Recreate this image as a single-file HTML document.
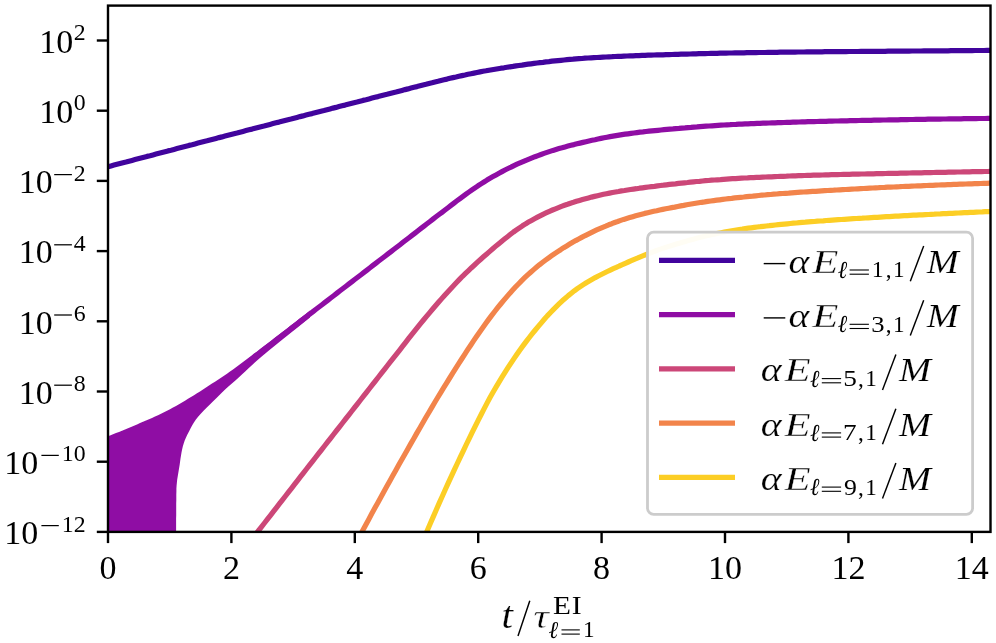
<!DOCTYPE html>
<html><head><meta charset="utf-8"><title>plot</title>
<style>
html,body{margin:0;padding:0;background:#fff;}
body{width:996px;height:643px;overflow:hidden;font-family:"Liberation Serif",serif;}
svg{display:block;will-change:transform;}
text{font-family:"Liberation Serif",serif;fill:#000;}
.i{font-style:italic;}
</style></head><body>
<svg width="996" height="643" viewBox="0 0 996 643">
<rect x="0" y="0" width="996" height="643" fill="#fff"/>
<defs><clipPath id="ax"><rect x="108.0" y="5.6" width="882.5" height="526.3"/></clipPath></defs>
<g clip-path="url(#ax)" fill="none" stroke-width="5.2" stroke-linejoin="round" stroke-linecap="butt">
<path d="M104.0 540.0 L104.0 438.0 L107.0 436.7 L110.0 435.5 L113.0 434.3 L116.0 433.1 L119.0 431.9 L122.0 430.7 L125.0 429.4 L128.0 428.2 L131.0 426.9 L134.0 425.7 L137.0 424.4 L140.0 423.1 L143.0 421.8 L146.0 420.5 L149.0 419.2 L152.0 417.9 L155.0 416.6 L158.0 415.2 L161.0 413.7 L164.0 412.3 L167.0 410.8 L170.0 409.2 L173.0 407.6 L176.0 406.0 L179.0 404.2 L182.0 402.5 L185.0 400.7 L188.0 398.8 L191.0 397.0 L194.0 395.2 L197.0 393.3 L200.0 391.4 L203.0 389.5 L206.0 387.6 L209.0 385.6 L212.0 383.6 L215.0 381.7 L218.0 379.7 L221.0 377.7 L224.0 375.7 L227.0 373.7 L230.0 371.6 L233.0 369.5 L236.0 367.3 L239.0 365.1 L242.0 362.8 L245.0 360.5 L248.0 358.2 L251.0 355.9 L254.0 353.6 L257.0 351.4 L260.0 349.1 L263.0 346.8 L266.0 344.5 L269.0 342.2 L272.0 339.9 L275.0 337.6 L278.0 335.3 L281.0 333.0 L284.0 330.7 L287.0 328.4 L290.0 326.1 L293.0 323.8 L296.0 321.4 L299.0 319.1 L302.0 316.8 L305.0 314.4 L308.0 312.1 L310.0 310.5 L310.0 317.6 L306.2 320.6 L302.5 323.6 L298.8 326.6 L295.0 329.6 L291.2 332.6 L287.5 335.6 L283.7 338.6 L280.0 341.6 L276.3 344.6 L272.6 347.6 L268.9 350.6 L265.3 353.6 L261.7 356.6 L258.2 359.6 L254.8 362.6 L251.6 365.6 L248.3 368.6 L245.2 371.6 L241.9 374.6 L238.7 377.6 L235.4 380.6 L231.9 383.6 L228.4 386.6 L225.1 389.6 L222.0 392.6 L219.0 395.6 L216.0 398.6 L212.9 401.6 L209.9 404.6 L206.8 407.6 L203.8 410.6 L201.0 413.6 L198.3 416.6 L195.9 419.6 L193.9 422.6 L192.1 425.6 L190.5 428.6 L189.0 431.6 L187.4 434.6 L186.0 437.6 L184.7 440.6 L183.7 443.6 L182.8 446.6 L182.1 449.6 L181.5 452.6 L181.0 455.6 L180.5 458.6 L180.1 461.6 L179.7 464.6 L179.2 467.6 L178.7 470.6 L178.2 473.6 L177.7 476.6 L177.2 479.6 L176.9 482.6 L176.6 485.6 L176.4 488.6 L176.4 491.6 L176.3 494.6 L176.3 497.6 L176.3 500.6 L176.2 503.6 L176.2 506.6 L176.2 509.6 L176.2 512.6 L176.2 515.6 L176.1 518.6 L176.1 521.6 L176.1 524.6 L176.1 527.6 L176.1 530.6 L176.1 533.6 L176.1 536.6 L176.1 539.6 L176.1 540.0 Z" fill="#8f0da4" stroke="none"/>
<path d="M-1330.2 1049.4 L-1326.2 545.0 L108.0 166.7 L111.0 165.9 L114.0 165.1 L117.0 164.3 L120.0 163.5 L123.0 162.7 L126.0 162.0 L129.0 161.2 L132.0 160.4 L135.0 159.6 L138.0 158.8 L141.0 158.0 L144.0 157.2 L147.0 156.4 L150.0 155.7 L153.0 154.9 L156.0 154.1 L159.0 153.3 L162.0 152.5 L165.0 151.7 L168.0 150.9 L171.0 150.2 L174.0 149.4 L177.0 148.6 L180.0 147.8 L183.0 147.0 L186.0 146.2 L189.0 145.4 L192.0 144.7 L195.0 143.9 L198.0 143.1 L201.0 142.3 L204.0 141.5 L207.0 140.8 L210.0 140.0 L213.0 139.2 L216.0 138.4 L219.0 137.6 L222.0 136.9 L225.0 136.1 L228.0 135.3 L231.0 134.5 L234.0 133.7 L237.0 133.0 L240.0 132.2 L243.0 131.4 L246.0 130.6 L249.0 129.8 L252.0 129.1 L255.0 128.3 L258.0 127.5 L261.0 126.7 L264.0 126.0 L267.0 125.2 L270.0 124.4 L273.0 123.6 L276.0 122.8 L279.0 122.1 L282.0 121.3 L285.0 120.5 L288.0 119.7 L291.0 119.0 L294.0 118.2 L297.0 117.4 L300.0 116.6 L303.0 115.9 L306.0 115.1 L309.0 114.3 L312.0 113.6 L315.0 112.8 L318.0 112.0 L321.0 111.2 L324.0 110.5 L327.0 109.7 L330.0 108.9 L333.0 108.1 L336.0 107.4 L339.0 106.6 L342.0 105.8 L345.0 105.1 L348.0 104.3 L351.0 103.5 L354.0 102.7 L357.0 102.0 L360.0 101.2 L363.0 100.4 L366.0 99.7 L369.0 98.9 L372.0 98.1 L375.0 97.3 L378.0 96.6 L381.0 95.8 L384.0 95.0 L387.0 94.3 L390.0 93.5 L393.0 92.7 L396.0 92.0 L399.0 91.2 L402.0 90.4 L405.0 89.6 L408.0 88.9 L411.0 88.1 L414.0 87.3 L417.0 86.6 L420.0 85.8 L423.0 85.0 L426.0 84.3 L429.0 83.5 L432.0 82.8 L435.0 82.0 L438.0 81.3 L441.0 80.5 L444.0 79.8 L447.0 79.1 L450.0 78.3 L453.0 77.6 L456.0 77.0 L459.0 76.3 L462.0 75.6 L465.0 75.0 L468.0 74.3 L471.0 73.7 L474.0 73.1 L477.0 72.5 L480.0 71.9 L483.0 71.3 L486.0 70.8 L489.0 70.2 L492.0 69.7 L495.0 69.2 L498.0 68.7 L501.0 68.2 L504.0 67.8 L507.0 67.3 L510.0 66.8 L513.0 66.4 L516.0 65.9 L519.0 65.5 L522.0 65.1 L525.0 64.6 L528.0 64.2 L531.0 63.8 L534.0 63.4 L537.0 63.0 L540.0 62.6 L543.0 62.3 L546.0 61.9 L549.0 61.6 L552.0 61.2 L555.0 60.9 L558.0 60.6 L561.0 60.3 L564.0 60.0 L567.0 59.7 L570.0 59.4 L573.0 59.2 L576.0 58.9 L579.0 58.7 L582.0 58.5 L585.0 58.2 L588.0 58.0 L591.0 57.8 L594.0 57.6 L597.0 57.5 L600.0 57.3 L603.0 57.1 L606.0 57.0 L609.0 56.8 L612.0 56.7 L615.0 56.5 L618.0 56.4 L621.0 56.3 L624.0 56.1 L627.0 56.0 L630.0 55.9 L633.0 55.8 L636.0 55.7 L639.0 55.6 L642.0 55.4 L645.0 55.3 L648.0 55.2 L651.0 55.1 L654.0 55.0 L657.0 54.9 L660.0 54.9 L663.0 54.8 L666.0 54.7 L669.0 54.6 L672.0 54.5 L675.0 54.4 L678.0 54.3 L681.0 54.2 L684.0 54.2 L687.0 54.1 L690.0 54.0 L693.0 53.9 L696.0 53.8 L699.0 53.7 L702.0 53.7 L705.0 53.6 L708.0 53.5 L711.0 53.4 L714.0 53.4 L717.0 53.3 L720.0 53.2 L723.0 53.2 L726.0 53.1 L729.0 53.0 L732.0 53.0 L735.0 52.9 L738.0 52.9 L741.0 52.8 L744.0 52.8 L747.0 52.7 L750.0 52.7 L753.0 52.6 L756.0 52.6 L759.0 52.5 L762.0 52.5 L765.0 52.5 L768.0 52.4 L771.0 52.4 L774.0 52.3 L777.0 52.3 L780.0 52.2 L783.0 52.2 L786.0 52.2 L789.0 52.1 L792.0 52.1 L795.0 52.1 L798.0 52.0 L801.0 52.0 L804.0 52.0 L807.0 51.9 L810.0 51.9 L813.0 51.9 L816.0 51.8 L819.0 51.8 L822.0 51.8 L825.0 51.7 L828.0 51.7 L831.0 51.7 L834.0 51.7 L837.0 51.6 L840.0 51.6 L843.0 51.6 L846.0 51.6 L849.0 51.5 L852.0 51.5 L855.0 51.5 L858.0 51.5 L861.0 51.4 L864.0 51.4 L867.0 51.4 L870.0 51.4 L873.0 51.3 L876.0 51.3 L879.0 51.3 L882.0 51.3 L885.0 51.3 L888.0 51.2 L891.0 51.2 L894.0 51.2 L897.0 51.2 L900.0 51.1 L903.0 51.1 L906.0 51.1 L909.0 51.1 L912.0 51.0 L915.0 51.0 L918.0 51.0 L921.0 51.0 L924.0 50.9 L927.0 50.9 L930.0 50.9 L933.0 50.9 L936.0 50.9 L939.0 50.8 L942.0 50.8 L945.0 50.8 L948.0 50.8 L951.0 50.7 L954.0 50.7 L957.0 50.7 L960.0 50.7 L963.0 50.6 L966.0 50.6 L969.0 50.6 L972.0 50.6 L975.0 50.5 L978.0 50.5 L981.0 50.5 L984.0 50.5 L987.0 50.4 L990.0 50.4 L990.5 50.4" stroke="#41049d"/>
<path d="M250.0 360.6 L253.0 358.2 L256.0 355.9 L259.0 353.6 L262.0 351.2 L265.0 348.9 L268.0 346.5 L271.0 344.2 L274.0 341.9 L277.0 339.5 L280.0 337.2 L283.0 334.9 L286.0 332.5 L289.0 330.2 L292.0 327.9 L295.0 325.6 L298.0 323.2 L301.0 320.9 L304.0 318.6 L307.0 316.3 L310.0 314.0 L313.0 311.6 L316.0 309.3 L319.0 307.0 L322.0 304.7 L325.0 302.4 L328.0 300.1 L331.0 297.8 L334.0 295.5 L337.0 293.1 L340.0 290.8 L343.0 288.5 L346.0 286.2 L349.0 283.9 L352.0 281.6 L355.0 279.3 L358.0 277.0 L361.0 274.7 L364.0 272.4 L367.0 270.1 L370.0 267.8 L373.0 265.4 L376.0 263.1 L379.0 260.8 L382.0 258.5 L385.0 256.2 L388.0 253.9 L391.0 251.6 L394.0 249.3 L397.0 247.0 L400.0 244.7 L403.0 242.3 L406.0 240.0 L409.0 237.7 L412.0 235.4 L415.0 233.1 L418.0 230.7 L421.0 228.4 L424.0 226.1 L427.0 223.8 L430.0 221.5 L433.0 219.1 L436.0 216.8 L439.0 214.5 L442.0 212.3 L445.0 210.0 L448.0 207.7 L451.0 205.4 L454.0 203.1 L457.0 200.8 L460.0 198.6 L463.0 196.4 L466.0 194.2 L469.0 192.0 L472.0 189.9 L475.0 187.8 L478.0 185.8 L481.0 183.9 L484.0 182.0 L487.0 180.1 L490.0 178.3 L493.0 176.6 L496.0 174.9 L499.0 173.2 L502.0 171.6 L505.0 170.0 L508.0 168.5 L511.0 167.1 L514.0 165.6 L517.0 164.2 L520.0 162.9 L523.0 161.6 L526.0 160.3 L529.0 159.1 L532.0 157.9 L535.0 156.7 L538.0 155.6 L541.0 154.5 L544.0 153.4 L547.0 152.4 L550.0 151.4 L553.0 150.4 L556.0 149.5 L559.0 148.6 L562.0 147.8 L565.0 146.9 L568.0 146.1 L571.0 145.3 L574.0 144.6 L577.0 143.8 L580.0 143.1 L583.0 142.4 L586.0 141.7 L589.0 141.0 L592.0 140.3 L595.0 139.7 L598.0 139.0 L601.0 138.4 L604.0 137.8 L607.0 137.2 L610.0 136.6 L613.0 136.1 L616.0 135.6 L619.0 135.1 L622.0 134.6 L625.0 134.2 L628.0 133.8 L631.0 133.4 L634.0 133.0 L637.0 132.6 L640.0 132.2 L643.0 131.9 L646.0 131.5 L649.0 131.2 L652.0 130.9 L655.0 130.6 L658.0 130.3 L661.0 130.0 L664.0 129.7 L667.0 129.4 L670.0 129.1 L673.0 128.9 L676.0 128.6 L679.0 128.4 L682.0 128.1 L685.0 127.9 L688.0 127.6 L691.0 127.4 L694.0 127.1 L697.0 126.9 L700.0 126.6 L703.0 126.4 L706.0 126.2 L709.0 126.0 L712.0 125.8 L715.0 125.6 L718.0 125.4 L721.0 125.2 L724.0 125.0 L727.0 124.8 L730.0 124.7 L733.0 124.5 L736.0 124.4 L739.0 124.2 L742.0 124.1 L745.0 123.9 L748.0 123.8 L751.0 123.7 L754.0 123.6 L757.0 123.4 L760.0 123.3 L763.0 123.2 L766.0 123.1 L769.0 123.0 L772.0 122.9 L775.0 122.8 L778.0 122.7 L781.0 122.6 L784.0 122.5 L787.0 122.4 L790.0 122.3 L793.0 122.2 L796.0 122.1 L799.0 122.0 L802.0 121.9 L805.0 121.8 L808.0 121.7 L811.0 121.7 L814.0 121.6 L817.0 121.5 L820.0 121.4 L823.0 121.3 L826.0 121.3 L829.0 121.2 L832.0 121.1 L835.0 121.0 L838.0 121.0 L841.0 120.9 L844.0 120.8 L847.0 120.8 L850.0 120.7 L853.0 120.6 L856.0 120.6 L859.0 120.5 L862.0 120.4 L865.0 120.4 L868.0 120.3 L871.0 120.3 L874.0 120.2 L877.0 120.1 L880.0 120.1 L883.0 120.0 L886.0 120.0 L889.0 119.9 L892.0 119.9 L895.0 119.8 L898.0 119.8 L901.0 119.7 L904.0 119.6 L907.0 119.6 L910.0 119.5 L913.0 119.5 L916.0 119.4 L919.0 119.4 L922.0 119.3 L925.0 119.3 L928.0 119.2 L931.0 119.2 L934.0 119.2 L937.0 119.1 L940.0 119.1 L943.0 119.0 L946.0 119.0 L949.0 118.9 L952.0 118.9 L955.0 118.8 L958.0 118.8 L961.0 118.8 L964.0 118.7 L967.0 118.7 L970.0 118.6 L973.0 118.6 L976.0 118.6 L979.0 118.5 L982.0 118.5 L985.0 118.5 L988.0 118.4 L990.5 118.4" stroke="#8f0da4"/>
<path d="M247.4 545.0 L258.5 530.7 L261.5 526.9 L264.5 523.0 L267.5 519.1 L270.5 515.3 L273.5 511.4 L276.5 507.6 L279.5 503.7 L282.5 499.9 L285.5 496.0 L288.5 492.1 L291.5 488.3 L294.5 484.4 L297.5 480.6 L300.5 476.7 L303.5 472.9 L306.5 469.0 L309.5 465.2 L312.5 461.4 L315.5 457.5 L318.5 453.7 L321.5 449.8 L324.5 446.0 L327.5 442.2 L330.5 438.3 L333.5 434.5 L336.5 430.6 L339.5 426.8 L342.5 423.0 L345.5 419.1 L348.5 415.3 L351.5 411.5 L354.5 407.6 L357.5 403.8 L360.5 400.0 L363.5 396.2 L366.5 392.3 L369.5 388.5 L372.5 384.7 L375.5 380.8 L378.5 377.0 L381.5 373.2 L384.5 369.4 L387.5 365.5 L390.5 361.7 L393.5 357.9 L396.5 354.1 L399.5 350.3 L402.5 346.4 L405.5 342.6 L408.5 338.7 L411.5 334.9 L414.5 331.1 L417.5 327.3 L420.5 323.6 L423.5 320.0 L426.5 316.4 L429.5 312.8 L432.5 309.3 L435.5 305.8 L438.5 302.3 L441.5 298.9 L444.5 295.5 L447.5 292.2 L450.5 288.9 L453.5 285.7 L456.5 282.5 L459.5 279.4 L462.5 276.3 L465.5 273.4 L468.5 270.6 L471.5 267.7 L474.5 265.0 L477.5 262.2 L480.5 259.5 L483.5 256.8 L486.5 254.2 L489.5 251.6 L492.5 249.0 L495.5 246.4 L498.5 243.9 L501.5 241.4 L504.5 239.0 L507.5 236.7 L510.5 234.3 L513.5 232.0 L516.5 229.9 L519.5 227.8 L522.5 225.8 L525.5 223.9 L528.5 222.1 L531.5 220.4 L534.5 218.7 L537.5 217.1 L540.5 215.6 L543.5 214.1 L546.5 212.7 L549.5 211.3 L552.5 210.0 L555.5 208.8 L558.5 207.6 L561.5 206.4 L564.5 205.3 L567.5 204.3 L570.5 203.2 L573.5 202.3 L576.5 201.3 L579.5 200.4 L582.5 199.5 L585.5 198.7 L588.5 197.9 L591.5 197.1 L594.5 196.4 L597.5 195.7 L600.5 195.0 L603.5 194.3 L606.5 193.7 L609.5 193.1 L612.5 192.5 L615.5 192.0 L618.5 191.5 L621.5 190.9 L624.5 190.5 L627.5 190.0 L630.5 189.5 L633.5 189.1 L636.5 188.7 L639.5 188.2 L642.5 187.8 L645.5 187.4 L648.5 187.0 L651.5 186.6 L654.5 186.3 L657.5 185.9 L660.5 185.5 L663.5 185.2 L666.5 184.8 L669.5 184.4 L672.5 184.1 L675.5 183.8 L678.5 183.4 L681.5 183.1 L684.5 182.8 L687.5 182.5 L690.5 182.1 L693.5 181.8 L696.5 181.5 L699.5 181.3 L702.5 181.0 L705.5 180.7 L708.5 180.5 L711.5 180.2 L714.5 180.0 L717.5 179.8 L720.5 179.6 L723.5 179.3 L726.5 179.1 L729.5 178.9 L732.5 178.7 L735.5 178.6 L738.5 178.4 L741.5 178.2 L744.5 178.0 L747.5 177.9 L750.5 177.7 L753.5 177.6 L756.5 177.4 L759.5 177.3 L762.5 177.1 L765.5 177.0 L768.5 176.9 L771.5 176.8 L774.5 176.6 L777.5 176.5 L780.5 176.4 L783.5 176.3 L786.5 176.2 L789.5 176.0 L792.5 175.9 L795.5 175.8 L798.5 175.7 L801.5 175.6 L804.5 175.5 L807.5 175.4 L810.5 175.3 L813.5 175.2 L816.5 175.1 L819.5 175.1 L822.5 175.0 L825.5 174.9 L828.5 174.8 L831.5 174.7 L834.5 174.7 L837.5 174.6 L840.5 174.5 L843.5 174.4 L846.5 174.4 L849.5 174.3 L852.5 174.2 L855.5 174.2 L858.5 174.1 L861.5 174.0 L864.5 174.0 L867.5 173.9 L870.5 173.8 L873.5 173.8 L876.5 173.7 L879.5 173.6 L882.5 173.6 L885.5 173.5 L888.5 173.4 L891.5 173.4 L894.5 173.3 L897.5 173.3 L900.5 173.2 L903.5 173.1 L906.5 173.1 L909.5 173.0 L912.5 172.9 L915.5 172.9 L918.5 172.8 L921.5 172.8 L924.5 172.7 L927.5 172.6 L930.5 172.6 L933.5 172.5 L936.5 172.4 L939.5 172.4 L942.5 172.3 L945.5 172.3 L948.5 172.2 L951.5 172.1 L954.5 172.1 L957.5 172.0 L960.5 172.0 L963.5 171.9 L966.5 171.9 L969.5 171.8 L972.5 171.7 L975.5 171.7 L978.5 171.6 L981.5 171.6 L984.5 171.5 L987.5 171.5 L990.5 171.4" stroke="#cc4778"/>
<path d="M354.9 545.0 L362.7 530.5 L365.7 524.9 L368.7 519.4 L371.7 513.8 L374.7 508.3 L377.7 502.9 L380.7 497.4 L383.7 492.0 L386.7 486.6 L389.7 481.2 L392.7 475.8 L395.7 470.5 L398.7 465.1 L401.7 459.8 L404.7 454.5 L407.7 449.2 L410.7 443.9 L413.7 438.7 L416.7 433.4 L419.7 428.2 L422.7 423.0 L425.7 417.8 L428.7 412.7 L431.7 407.6 L434.7 402.5 L437.7 397.5 L440.7 392.6 L443.7 387.7 L446.7 382.8 L449.7 378.0 L452.7 373.2 L455.7 368.4 L458.7 363.7 L461.7 359.0 L464.7 354.4 L467.7 349.7 L470.7 345.2 L473.7 340.6 L476.7 336.2 L479.7 331.9 L482.7 327.7 L485.7 323.5 L488.7 319.4 L491.7 315.4 L494.7 311.5 L497.7 307.7 L500.7 304.0 L503.7 300.4 L506.7 296.9 L509.7 293.4 L512.7 290.1 L515.7 286.8 L518.7 283.7 L521.7 280.6 L524.7 277.7 L527.7 274.9 L530.7 272.2 L533.7 269.6 L536.7 267.1 L539.7 264.6 L542.7 262.3 L545.7 260.0 L548.7 257.8 L551.7 255.7 L554.7 253.6 L557.7 251.6 L560.7 249.7 L563.7 247.7 L566.7 245.9 L569.7 244.1 L572.7 242.3 L575.7 240.6 L578.7 239.0 L581.7 237.4 L584.7 235.8 L587.7 234.3 L590.7 232.8 L593.7 231.3 L596.7 229.9 L599.7 228.6 L602.7 227.3 L605.7 226.1 L608.7 224.8 L611.7 223.7 L614.7 222.5 L617.7 221.5 L620.7 220.4 L623.7 219.4 L626.7 218.5 L629.7 217.6 L632.7 216.7 L635.7 215.8 L638.7 215.0 L641.7 214.2 L644.7 213.4 L647.7 212.7 L650.7 212.0 L653.7 211.3 L656.7 210.7 L659.7 210.0 L662.7 209.4 L665.7 208.8 L668.7 208.2 L671.7 207.6 L674.7 207.1 L677.7 206.5 L680.7 205.9 L683.7 205.4 L686.7 204.8 L689.7 204.3 L692.7 203.8 L695.7 203.3 L698.7 202.8 L701.7 202.3 L704.7 201.9 L707.7 201.4 L710.7 201.0 L713.7 200.6 L716.7 200.2 L719.7 199.8 L722.7 199.4 L725.7 199.0 L728.7 198.6 L731.7 198.3 L734.7 197.9 L737.7 197.6 L740.7 197.3 L743.7 197.0 L746.7 196.6 L749.7 196.3 L752.7 196.1 L755.7 195.8 L758.7 195.5 L761.7 195.2 L764.7 195.0 L767.7 194.7 L770.7 194.5 L773.7 194.2 L776.7 194.0 L779.7 193.7 L782.7 193.5 L785.7 193.3 L788.7 193.1 L791.7 192.8 L794.7 192.6 L797.7 192.4 L800.7 192.2 L803.7 192.0 L806.7 191.8 L809.7 191.6 L812.7 191.4 L815.7 191.3 L818.7 191.1 L821.7 190.9 L824.7 190.7 L827.7 190.5 L830.7 190.3 L833.7 190.2 L836.7 190.0 L839.7 189.8 L842.7 189.6 L845.7 189.5 L848.7 189.3 L851.7 189.1 L854.7 189.0 L857.7 188.8 L860.7 188.6 L863.7 188.5 L866.7 188.3 L869.7 188.1 L872.7 188.0 L875.7 187.8 L878.7 187.7 L881.7 187.5 L884.7 187.4 L887.7 187.2 L890.7 187.1 L893.7 187.0 L896.7 186.8 L899.7 186.7 L902.7 186.5 L905.7 186.4 L908.7 186.3 L911.7 186.1 L914.7 186.0 L917.7 185.9 L920.7 185.8 L923.7 185.6 L926.7 185.5 L929.7 185.4 L932.7 185.3 L935.7 185.1 L938.7 185.0 L941.7 184.9 L944.7 184.8 L947.7 184.7 L950.7 184.6 L953.7 184.4 L956.7 184.3 L959.7 184.2 L962.7 184.1 L965.7 184.0 L968.7 183.9 L971.7 183.8 L974.7 183.7 L977.7 183.6 L980.7 183.5 L983.7 183.4 L986.7 183.3 L989.7 183.2 L990.5 183.2" stroke="#f2844b"/>
<path d="M421.1 545.0 L427.3 530.5 L430.3 523.5 L433.3 516.6 L436.3 509.7 L439.3 502.9 L442.3 496.2 L445.3 489.5 L448.3 482.9 L451.3 476.4 L454.3 469.9 L457.3 463.5 L460.3 457.1 L463.3 450.8 L466.3 444.5 L469.3 438.3 L472.3 432.2 L475.3 426.1 L478.3 420.1 L481.3 414.2 L484.3 408.4 L487.3 402.6 L490.3 397.1 L493.3 391.7 L496.3 386.6 L499.3 381.6 L502.3 376.7 L505.3 371.9 L508.3 367.2 L511.3 362.6 L514.3 358.1 L517.3 353.7 L520.3 349.5 L523.3 345.4 L526.3 341.4 L529.3 337.5 L532.3 333.7 L535.3 330.0 L538.3 326.4 L541.3 322.8 L544.3 319.3 L547.3 315.9 L550.3 312.7 L553.3 309.6 L556.3 306.6 L559.3 303.7 L562.3 300.8 L565.3 298.2 L568.3 295.6 L571.3 293.2 L574.3 290.8 L577.3 288.6 L580.3 286.6 L583.3 284.6 L586.3 282.7 L589.3 281.0 L592.3 279.3 L595.3 277.6 L598.3 276.0 L601.3 274.5 L604.3 273.0 L607.3 271.5 L610.3 270.1 L613.3 268.7 L616.3 267.4 L619.3 266.0 L622.3 264.7 L625.3 263.3 L628.3 262.0 L631.3 260.7 L634.3 259.4 L637.3 258.2 L640.3 256.9 L643.3 255.7 L646.3 254.5 L649.3 253.3 L652.3 252.1 L655.3 251.0 L658.3 249.9 L661.3 248.9 L664.3 247.9 L667.3 246.9 L670.3 245.9 L673.3 245.0 L676.3 244.1 L679.3 243.2 L682.3 242.3 L685.3 241.4 L688.3 240.6 L691.3 239.7 L694.3 238.9 L697.3 238.1 L700.3 237.3 L703.3 236.6 L706.3 235.8 L709.3 235.2 L712.3 234.5 L715.3 233.9 L718.3 233.3 L721.3 232.7 L724.3 232.1 L727.3 231.5 L730.3 231.0 L733.3 230.5 L736.3 230.0 L739.3 229.5 L742.3 229.1 L745.3 228.6 L748.3 228.2 L751.3 227.8 L754.3 227.4 L757.3 227.0 L760.3 226.7 L763.3 226.3 L766.3 226.0 L769.3 225.7 L772.3 225.3 L775.3 225.0 L778.3 224.7 L781.3 224.4 L784.3 224.1 L787.3 223.8 L790.3 223.5 L793.3 223.2 L796.3 223.0 L799.3 222.7 L802.3 222.4 L805.3 222.2 L808.3 221.9 L811.3 221.7 L814.3 221.5 L817.3 221.2 L820.3 221.0 L823.3 220.8 L826.3 220.5 L829.3 220.3 L832.3 220.1 L835.3 219.9 L838.3 219.7 L841.3 219.5 L844.3 219.3 L847.3 219.1 L850.3 218.9 L853.3 218.7 L856.3 218.5 L859.3 218.3 L862.3 218.2 L865.3 218.0 L868.3 217.8 L871.3 217.6 L874.3 217.4 L877.3 217.3 L880.3 217.1 L883.3 216.9 L886.3 216.7 L889.3 216.6 L892.3 216.4 L895.3 216.2 L898.3 216.1 L901.3 215.9 L904.3 215.7 L907.3 215.6 L910.3 215.4 L913.3 215.2 L916.3 215.1 L919.3 214.9 L922.3 214.8 L925.3 214.6 L928.3 214.5 L931.3 214.3 L934.3 214.2 L937.3 214.0 L940.3 213.9 L943.3 213.7 L946.3 213.6 L949.3 213.4 L952.3 213.3 L955.3 213.1 L958.3 213.0 L961.3 212.8 L964.3 212.7 L967.3 212.6 L970.3 212.4 L973.3 212.3 L976.3 212.1 L979.3 212.0 L982.3 211.9 L985.3 211.7 L988.3 211.6 L990.5 211.5" stroke="#fcce25"/>
</g>
<rect x="108.0" y="5.6" width="882.5" height="526.3" stroke="#000" stroke-width="2.4" fill="none"/>
<g stroke="#000" stroke-width="2.4" stroke-linecap="butt">
<line x1="108.0" y1="531.9" x2="108.0" y2="543.1"/>
<line x1="231.4" y1="531.9" x2="231.4" y2="543.1"/>
<line x1="354.8" y1="531.9" x2="354.8" y2="543.1"/>
<line x1="478.2" y1="531.9" x2="478.2" y2="543.1"/>
<line x1="601.6" y1="531.9" x2="601.6" y2="543.1"/>
<line x1="725.0" y1="531.9" x2="725.0" y2="543.1"/>
<line x1="848.4" y1="531.9" x2="848.4" y2="543.1"/>
<line x1="971.8" y1="531.9" x2="971.8" y2="543.1"/>
<line x1="108.0" y1="531.9" x2="96.8" y2="531.9"/>
<line x1="108.0" y1="461.7" x2="96.8" y2="461.7"/>
<line x1="108.0" y1="391.5" x2="96.8" y2="391.5"/>
<line x1="108.0" y1="321.3" x2="96.8" y2="321.3"/>
<line x1="108.0" y1="251.1" x2="96.8" y2="251.1"/>
<line x1="108.0" y1="180.9" x2="96.8" y2="180.9"/>
<line x1="108.0" y1="110.7" x2="96.8" y2="110.7"/>
<line x1="108.0" y1="40.5" x2="96.8" y2="40.5"/>
</g>
<g id="xt" font-size="34.0" text-anchor="middle">
<text x="108.0" y="579.4">0</text>
<text x="231.4" y="579.4">2</text>
<text x="354.8" y="579.4">4</text>
<text x="478.2" y="579.4">6</text>
<text x="601.6" y="579.4">8</text>
<text x="725.0" y="579.4">10</text>
<text x="848.4" y="579.4">12</text>
<text x="971.8" y="579.4">14</text>
</g>
<g id="yt">
<text x="38.19" y="544.20" font-size="34.0" text-anchor="end">10</text>
<line x1="41.40" y1="525.60" x2="58.80" y2="525.60" stroke="#000" stroke-width="1.25"/>
<text x="85.60" y="531.60" font-size="23.8" text-anchor="end">12</text>
<text x="38.19" y="474.00" font-size="34.0" text-anchor="end">10</text>
<line x1="41.40" y1="455.40" x2="58.80" y2="455.40" stroke="#000" stroke-width="1.25"/>
<text x="85.60" y="461.40" font-size="23.8" text-anchor="end">10</text>
<text x="52.69" y="403.80" font-size="34.0" text-anchor="end">10</text>
<line x1="54.20" y1="385.20" x2="71.90" y2="385.20" stroke="#000" stroke-width="1.25"/>
<text x="85.60" y="391.20" font-size="23.8" text-anchor="end">8</text>
<text x="52.69" y="333.60" font-size="34.0" text-anchor="end">10</text>
<line x1="54.20" y1="315.00" x2="71.90" y2="315.00" stroke="#000" stroke-width="1.25"/>
<text x="85.60" y="321.00" font-size="23.8" text-anchor="end">6</text>
<text x="52.69" y="263.40" font-size="34.0" text-anchor="end">10</text>
<line x1="54.20" y1="244.80" x2="71.90" y2="244.80" stroke="#000" stroke-width="1.25"/>
<text x="85.60" y="250.80" font-size="23.8" text-anchor="end">4</text>
<text x="52.69" y="193.20" font-size="34.0" text-anchor="end">10</text>
<line x1="54.20" y1="174.60" x2="71.90" y2="174.60" stroke="#000" stroke-width="1.25"/>
<text x="85.60" y="180.60" font-size="23.8" text-anchor="end">2</text>
<text x="73.19" y="123.00" font-size="34.0" text-anchor="end">10</text>
<text x="85.60" y="110.40" font-size="23.8" text-anchor="end">0</text>
<text x="73.19" y="52.80" font-size="34.0" text-anchor="end">10</text>
<text x="85.60" y="40.20" font-size="23.8" text-anchor="end">2</text>
</g>
<g id="xl">
<text transform="translate(501.38 627.50) scale(1.118 1)" font-size="37.00" class="i" stroke="#fff" stroke-width="0.18">t</text>
<line x1="518.00" y1="635.90" x2="529.80" y2="600.80" stroke="#000" stroke-width="1.45"/>
<text transform="translate(533.27 627.50) scale(1.320 1)" font-size="33.00" class="i" stroke="#fff" stroke-width="0.48">τ</text>
<text transform="translate(552.96 614.10) scale(1.191 1)" font-size="24.60">E</text>
<text transform="translate(571.82 614.10) scale(1.200 1)" font-size="24.60">I</text>
<text transform="translate(548.73 637.60) scale(0.951 1)" font-size="24.20" class="i">ℓ</text>
<line x1="561.50" y1="629.90" x2="579.80" y2="629.90" stroke="#000" stroke-width="1.10"/>
<line x1="561.50" y1="634.10" x2="579.80" y2="634.10" stroke="#000" stroke-width="1.10"/>
<text x="583.03" y="637.40" font-size="23.20">1</text>
</g>
<g id="lg">
<rect x="647.5" y="232.1" width="325.1" height="282.3" rx="6.2" ry="6.2" fill="#fff" fill-opacity="0.95" stroke="#cccccc" stroke-width="2.8"/>
<line x1="659.00" y1="260.30" x2="735.00" y2="260.30" stroke="#41049d" stroke-width="5.20"/>
<line x1="763.70" y1="263.60" x2="785.30" y2="263.60" stroke="#000" stroke-width="1.40"/>
<text transform="translate(788.62 272.70) scale(1.150 1)" font-size="34.50" class="i" stroke="#fff" stroke-width="0.22">α</text>
<text transform="translate(812.20 272.70) scale(1.243 1)" font-size="34.50" class="i" stroke="#fff" stroke-width="0.36">E</text>
<text transform="translate(837.94 277.90) scale(0.915 1)" font-size="24.60" class="i">ℓ</text>
<line x1="849.60" y1="270.00" x2="868.90" y2="270.00" stroke="#000" stroke-width="1.10"/>
<line x1="849.60" y1="274.20" x2="868.90" y2="274.20" stroke="#000" stroke-width="1.10"/>
<text x="871.82" y="277.40" font-size="23.80">1</text>
<text x="885.72" y="277.40" font-size="23.20">,</text>
<text x="892.98" y="277.40" font-size="23.20">1</text>
<line x1="910.30" y1="281.30" x2="923.70" y2="245.90" stroke="#000" stroke-width="1.45"/>
<text transform="translate(926.75 272.70) scale(1.113 1)" font-size="34.50" class="i" stroke="#fff" stroke-width="0.17">M</text>
<line x1="659.00" y1="314.60" x2="735.00" y2="314.60" stroke="#8f0da4" stroke-width="5.20"/>
<line x1="763.70" y1="317.90" x2="785.30" y2="317.90" stroke="#000" stroke-width="1.40"/>
<text transform="translate(788.62 327.00) scale(1.150 1)" font-size="34.50" class="i" stroke="#fff" stroke-width="0.22">α</text>
<text transform="translate(812.20 327.00) scale(1.243 1)" font-size="34.50" class="i" stroke="#fff" stroke-width="0.36">E</text>
<text transform="translate(837.94 332.20) scale(0.915 1)" font-size="24.60" class="i">ℓ</text>
<line x1="849.60" y1="324.30" x2="868.90" y2="324.30" stroke="#000" stroke-width="1.10"/>
<line x1="849.60" y1="328.50" x2="868.90" y2="328.50" stroke="#000" stroke-width="1.10"/>
<text transform="translate(871.33 331.70) scale(1.119 1)" font-size="23.80">3</text>
<text x="885.72" y="331.70" font-size="23.20">,</text>
<text x="892.98" y="331.70" font-size="23.20">1</text>
<line x1="910.30" y1="335.60" x2="923.70" y2="300.20" stroke="#000" stroke-width="1.45"/>
<text transform="translate(926.75 327.00) scale(1.113 1)" font-size="34.50" class="i" stroke="#fff" stroke-width="0.17">M</text>
<line x1="659.00" y1="368.90" x2="735.00" y2="368.90" stroke="#cc4778" stroke-width="5.20"/>
<text transform="translate(760.82 381.30) scale(1.150 1)" font-size="34.50" class="i" stroke="#fff" stroke-width="0.22">α</text>
<text transform="translate(784.40 381.30) scale(1.243 1)" font-size="34.50" class="i" stroke="#fff" stroke-width="0.36">E</text>
<text transform="translate(810.14 386.50) scale(0.915 1)" font-size="24.60" class="i">ℓ</text>
<line x1="821.80" y1="378.60" x2="841.10" y2="378.60" stroke="#000" stroke-width="1.10"/>
<line x1="821.80" y1="382.80" x2="841.10" y2="382.80" stroke="#000" stroke-width="1.10"/>
<text transform="translate(843.21 386.00) scale(1.147 1)" font-size="23.80">5</text>
<text x="857.92" y="386.00" font-size="23.20">,</text>
<text x="865.18" y="386.00" font-size="23.20">1</text>
<line x1="882.50" y1="389.90" x2="895.90" y2="354.50" stroke="#000" stroke-width="1.45"/>
<text transform="translate(898.95 381.30) scale(1.113 1)" font-size="34.50" class="i" stroke="#fff" stroke-width="0.17">M</text>
<line x1="659.00" y1="423.20" x2="735.00" y2="423.20" stroke="#f2844b" stroke-width="5.20"/>
<text transform="translate(760.82 435.60) scale(1.150 1)" font-size="34.50" class="i" stroke="#fff" stroke-width="0.22">α</text>
<text transform="translate(784.40 435.60) scale(1.243 1)" font-size="34.50" class="i" stroke="#fff" stroke-width="0.36">E</text>
<text transform="translate(810.14 440.80) scale(0.915 1)" font-size="24.60" class="i">ℓ</text>
<line x1="821.80" y1="432.90" x2="841.10" y2="432.90" stroke="#000" stroke-width="1.10"/>
<line x1="821.80" y1="437.10" x2="841.10" y2="437.10" stroke="#000" stroke-width="1.10"/>
<text transform="translate(843.01 440.30) scale(1.140 1)" font-size="23.80">7</text>
<text x="857.92" y="440.30" font-size="23.20">,</text>
<text x="865.18" y="440.30" font-size="23.20">1</text>
<line x1="882.50" y1="444.20" x2="895.90" y2="408.80" stroke="#000" stroke-width="1.45"/>
<text transform="translate(898.95 435.60) scale(1.113 1)" font-size="34.50" class="i" stroke="#fff" stroke-width="0.17">M</text>
<line x1="659.00" y1="477.40" x2="735.00" y2="477.40" stroke="#fcce25" stroke-width="5.20"/>
<text transform="translate(760.82 489.80) scale(1.150 1)" font-size="34.50" class="i" stroke="#fff" stroke-width="0.22">α</text>
<text transform="translate(784.40 489.80) scale(1.243 1)" font-size="34.50" class="i" stroke="#fff" stroke-width="0.36">E</text>
<text transform="translate(810.14 495.00) scale(0.915 1)" font-size="24.60" class="i">ℓ</text>
<line x1="821.80" y1="487.10" x2="841.10" y2="487.10" stroke="#000" stroke-width="1.10"/>
<line x1="821.80" y1="491.30" x2="841.10" y2="491.30" stroke="#000" stroke-width="1.10"/>
<text transform="translate(843.97 494.50) scale(1.083 1)" font-size="23.80">9</text>
<text x="857.92" y="494.50" font-size="23.20">,</text>
<text x="865.18" y="494.50" font-size="23.20">1</text>
<line x1="882.50" y1="498.40" x2="895.90" y2="463.00" stroke="#000" stroke-width="1.45"/>
<text transform="translate(898.95 489.80) scale(1.113 1)" font-size="34.50" class="i" stroke="#fff" stroke-width="0.17">M</text>
</g>
</svg>
</body></html>
